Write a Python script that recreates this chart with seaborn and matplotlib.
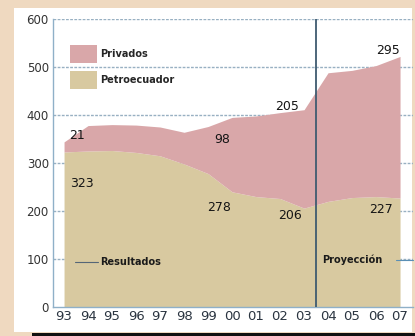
import matplotlib
matplotlib.use("Agg")
import matplotlib.pyplot as plt
from matplotlib.patches import Patch, Rectangle
import seaborn as sns
import pandas as pd

# Oil production (thousand barrels per day), results 1993-2003 and projection 2004-2007
years = [1993, 1994, 1995, 1996, 1997, 1998, 1999, 2000, 2001, 2002, 2003, 2004, 2005, 2006, 2007]
year_labels = ["93", "94", "95", "96", "97", "98", "99", "00", "01", "02", "03", "04", "05", "06", "07"]
petroecuador = [323, 325, 326, 322, 315, 298, 278, 240, 230, 226, 206, 220, 228, 230, 227]
privados = [21, 53, 54, 57, 60, 66, 98, 155, 168, 179, 205, 268, 265, 273, 295]
y_ticks = [0, 100, 200, 300, 400, 500, 600]

df = pd.DataFrame({"year": years, "Petroecuador": petroecuador, "Privados": privados})

sns.set_theme(style="white")
plt.rcParams["font.family"] = ["DejaVu Sans"]

pink, tan = sns.color_palette(["#d9a7a9", "#d8c9a0"])
grid_c = "#98b0c2"
frame_c = "#8fb0c8"

fig = plt.figure(figsize=(4.15, 3.36), dpi=100)
fig.patch.set_facecolor("#efd9c0")
W, H = 415, 336
# white panel and bottom rule
fig.add_artist(Rectangle((14 / W, (H - 332) / H), (412 - 14) / W, (332 - 8) / H,
                         transform=fig.transFigure, facecolor="white", edgecolor="none", zorder=0))
fig.add_artist(Rectangle((32 / W, 0), 1 - 32 / W, 3.5 / H,
                         transform=fig.transFigure, facecolor="#111111", edgecolor="none", zorder=0))

ax = fig.add_axes([53 / W, 29 / H, 360 / W, 288 / H])
ax.set_facecolor("none")

ax.stackplot(df["year"], df["Petroecuador"], df["Privados"], colors=[tan, pink],
             linewidth=0, zorder=2)

for y in y_ticks[1:]:
    ax.axhline(y, color=grid_c, lw=1.0, ls=(0, (2, 1)), zorder=1)
ax.axvline(2003.5, color="#3f5b70", lw=1.3, zorder=3)

ax.set_xlim(1992.54, 2007.54)
ax.set_ylim(0, 600)
ax.set_xticks(years)
ax.set_xticklabels(year_labels)
ax.set_yticks(y_ticks)
ax.set_yticklabels([str(v) for v in y_ticks])
ax.tick_params(axis="x", direction="in", length=4, width=0.8, color=frame_c, pad=2,
               labelsize=9.5, labelcolor="#2a3440")
ax.tick_params(axis="y", direction="in", length=5, width=0.8, color=frame_c, pad=3,
               labelsize=8.5, labelcolor="#333333")
sns.despine(ax=ax, top=True, right=True)
for s in ("left", "bottom"):
    ax.spines[s].set_color(frame_c)
    ax.spines[s].set_linewidth(1.0)

# value labels
txt = dict(fontsize=9, color="#151515", ha="center", va="center", zorder=5)
ax.text(1993.55, 358, str(privados[0]), **txt)
ax.text(1993.75, 258, str(petroecuador[0]), **txt)
ax.text(1999.6, 348, str(privados[6]), **txt)
ax.text(1999.45, 208, str(petroecuador[6]), **txt)
ax.text(2002.3, 417, str(privados[10]), **txt)
ax.text(2002.4, 190, str(petroecuador[10]), **txt)
ax.text(2006.5, 535, str(privados[14]), **txt)
ax.text(2006.2, 203, str(petroecuador[14]), **txt)

# period captions
ax.plot([1993.46, 1994.4], [94, 94], color="#556677", lw=0.8, zorder=5)
ax.text(1994.5, 94, "Resultados", fontsize=7, fontweight="bold", color="#1a1a1a",
        ha="left", va="center", zorder=5)
ax.text(2003.75, 98, "Proyección", fontsize=7, fontweight="bold", color="#1a1a1a",
        ha="left", va="center", zorder=5)
ax.plot([2006.85, 2007.54], [98, 98], color="#5a8fb5", lw=0.8, zorder=5, clip_on=False)

handles = [Patch(facecolor=pink, edgecolor="none", label="Privados"),
           Patch(facecolor=tan, edgecolor="none", label="Petroecuador")]
ax.legend(handles=handles, loc="upper left", bbox_to_anchor=(0.022, 0.94), frameon=False,
          handlelength=2.8, handleheight=2.5, handletextpad=0.3, labelspacing=0.8,
          prop={"size": 7, "weight": "bold"})

fig.savefig("out.png", dpi=100, facecolor=fig.get_facecolor())
